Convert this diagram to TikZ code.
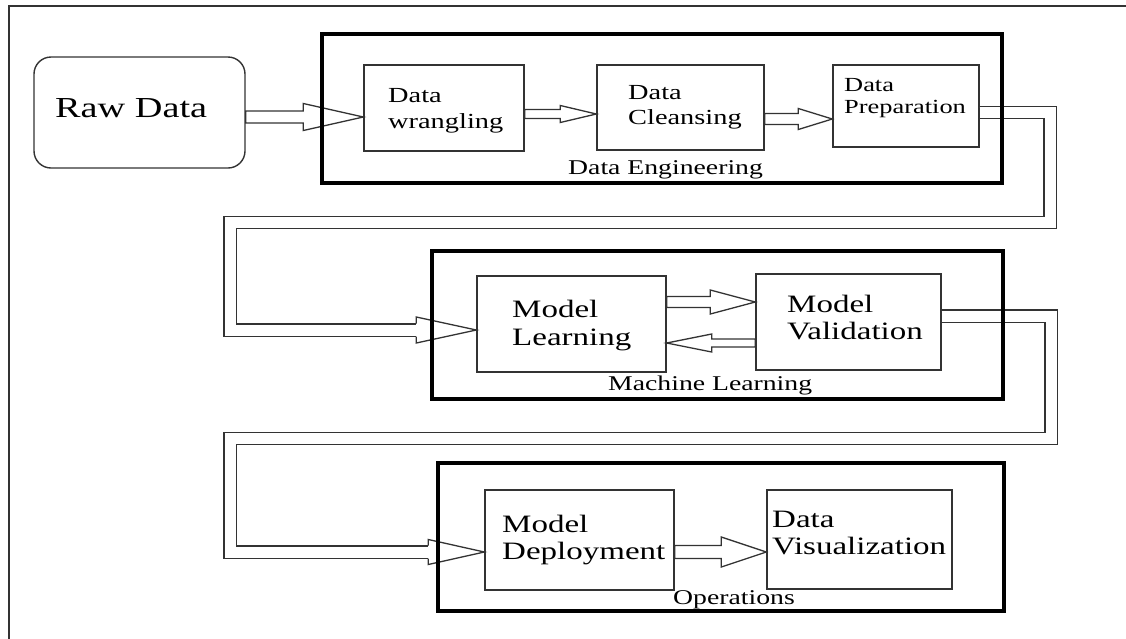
\documentclass[tikz,border=0pt]{standalone}
\usepackage{fontspec}
\setmainfont{Liberation Serif}[FakeStretch=1.32]
\usetikzlibrary{calc}

\definecolor{edge}{HTML}{333333}

\tikzset{
  box/.style={draw=edge, line width=1.4pt, inner sep=0pt},
  stage/.style={draw=black, line width=4pt, inner sep=0pt},
  txt/.style={inner sep=0pt, align=left, text=black, anchor=base west},
  arrline/.style={draw=edge, line width=1.3pt, line join=miter},
  pipe/.style={draw=edge, line width=1.4pt, double=white, double distance=11pt},
}

% hollow block arrow: #1 tail anchor, #2 tip anchor, #3 shaft half width,
% #4 head half width, #5 signed head length
\newcommand\blockarrow[5]{%
  \draw[arrline] let \p1=(#1), \p2=(#2) in
    (\x1,{\y2+#3pt}) -- ({\x2-(#5)*1pt},{\y2+#3pt}) -- ({\x2-(#5)*1pt},{\y2+#4pt})
    -- (\x2,\y2) -- ({\x2-(#5)*1pt},{\y2-#4pt}) -- ({\x2-(#5)*1pt},{\y2-#3pt})
    -- (\x1,{\y2-#3pt}) -- cycle;}

% open arrow head at the end of a pipe: #1 tip anchor, #2 shaft half width,
% #3 head half width, #4 head length
\newcommand\pipehead[4]{%
  \draw[arrline] let \p2=(#1) in
    ({\x2-#4pt},{\y2+#2pt}) -- ({\x2-#4pt},{\y2+#3pt}) -- (\x2,\y2)
    -- ({\x2-#4pt},{\y2-#3pt}) -- ({\x2-#4pt},{\y2-#2pt});}

\begin{document}
\begin{tikzpicture}[x=1pt, y=-1pt]
\useasboundingbox (0,0) rectangle (1126,638);
\fill[white] (0,0) rectangle (1126,638);

% outer frame (only its top and left sides lie inside the page)
\draw[draw=edge, line width=1.6pt] (1127,6) -- (9,6) -- (9,639);

% boxes
\node[box, rounded corners=17pt, minimum width=211pt, minimum height=111pt] (raw) at (139.5,112.5) {};
\node[box, minimum width=160pt, minimum height=86pt] (wr) at (444,108) {};
\node[box, minimum width=167pt, minimum height=85pt] (cl) at (680.5,107.5) {};
\node[box, minimum width=146pt, minimum height=82pt] (pr) at (906,106) {};
\node[box, minimum width=189pt, minimum height=96pt] (ml) at (571.5,324) {};
\node[box, minimum width=185pt, minimum height=96pt] (mv) at (848.5,322) {};
\node[box, minimum width=189pt, minimum height=100pt] (md) at (579.5,540) {};
\node[box, minimum width=185pt, minimum height=99pt] (dv) at (859.5,539.5) {};

% pipes between the stages
\draw[pipe] ([yshift=-6.5pt]pr.east) -| (1050,222.5) -| (230,330) -- ([xshift=-60pt,yshift=-6pt]ml.west);
\pipehead{[yshift=-6pt]ml.west}{6.5}{13}{60}
\draw[pipe] ([yshift=6pt]mv.east) -| (1051,438.5) -| (230,552) -- ([xshift=-56pt,yshift=-12pt]md.west);
\pipehead{[yshift=-12pt]md.west}{6.5}{12.5}{56}

% block arrows
\blockarrow{raw.east}{[yshift=-9pt]wr.west}{6}{13.5}{60}
\blockarrow{wr.east}{[yshift=-6.5pt]cl.west}{4.5}{8.5}{36}
\blockarrow{cl.east}{[yshift=-13pt]pr.west}{5.5}{10.5}{34}
\blockarrow{ml.east}{[yshift=20pt]mv.west}{5.5}{12}{45}
\blockarrow{mv.west}{[yshift=-19pt]ml.east}{4}{9}{-45}
\blockarrow{md.east}{[yshift=-12.5pt]dv.west}{6.5}{15}{45}

% stage frames
\node[stage, minimum width=680pt, minimum height=149pt] (de) at (662,108.5) {};
\node[stage, minimum width=571pt, minimum height=148pt] (mlf) at (717.5,325) {};
\node[stage, minimum width=566pt, minimum height=148pt] (ops) at (721,537) {};

% texts (multi-line nodes are placed by the baseline of their last line)
\node[txt, font=\fontsize{29}{34}\selectfont] (rawt) at (55,117) {Raw Data};
\node[txt, font=\fontsize{21.5}{26}\selectfont] (wrt) at (388,128) {Data\\wrangling};
\node[txt, font=\fontsize{21.5}{25}\selectfont] (clt) at (628,124) {Data\\Cleansing};
\node[txt, font=\fontsize{20}{22}\selectfont] (prt) at (844,113) {Data\\Preparation};
\node[txt, font=\fontsize{25}{28}\selectfont] (mlt) at (512,345) {Model\\Learning};
\node[txt, font=\fontsize{25}{27}\selectfont] (mvt) at (787,339) {Model\\Validation};
\node[txt, font=\fontsize{25}{27}\selectfont] (mdt) at (502,559) {Model\\Deployment};
\node[txt, font=\fontsize{25}{27}\selectfont] (dvt) at (772,554) {Data\\Visualization};

\node[txt, font=\fontsize{21}{25}\selectfont] (delab) at (568,174) {Data Engineering};
\node[txt, font=\fontsize{21}{25}\selectfont] (mllab) at (608,390) {Machine Learning};
\node[txt, font=\fontsize{21}{25}\selectfont] (opslab) at (673,604) {Operations};
\end{tikzpicture}
\end{document}
